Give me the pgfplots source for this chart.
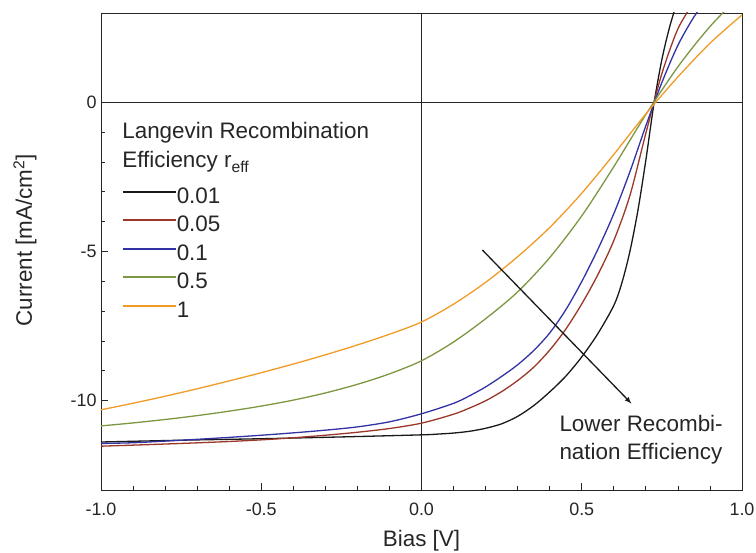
\documentclass[border=0pt]{standalone}
\usepackage{pgfplots}
\pgfplotsset{compat=1.18}
\usepackage{fontspec}
\setmainfont{Liberation Sans}
\definecolor{cblack}{RGB}{25,25,25}
\definecolor{cred}{RGB}{155,55,40}
\definecolor{cblue}{RGB}{50,50,165}
\definecolor{cgreen}{RGB}{125,150,65}
\definecolor{corange}{RGB}{240,155,40}
\begin{document}
\begin{tikzpicture}
\begin{axis}[
  scale only axis, width=641bp, height=477bp,
  xmin=-1, xmax=1, ymin=-13, ymax=3,
  axis line style={line width=0.9bp, black!85},
  xtick={-1,-0.5,0,0.5,1},
  xticklabels={-1.0,-0.5,0.0,0.5,1.0},
  ytick={-10,-5,0},
  yticklabels={-10,-5,0},
  minor x tick num=4, minor y tick num=4,
  tick align=inside, xtick pos=bottom, ytick pos=left,
  major tick length=7bp, minor tick length=4bp,
  tick style={line width=0.8bp, black!85},
  /pgf/number format/assume math mode=true,
  tick label style={font=\fontsize{18}{20}\selectfont, text=black!85},
  xticklabel style={yshift=-9bp},
  yticklabel style={xshift=-1bp},
  xlabel={Bias [V]}, ylabel={Current [mA/cm\textsuperscript{2}]},
  every axis x label/.style={at={(axis description cs:0.5,-0.107)}, anchor=center,
    font=\fontsize{22.5}{26}\selectfont, text=black!85},
  every axis y label/.style={at={(axis description cs:-0.1186,0.524)}, rotate=90, anchor=center,
    font=\fontsize{22.5}{26}\selectfont, text=black!85},
  legend cell align=left,
  legend image code/.code={\draw[#1, line width=1.6bp] (0bp,7.5bp) -- (53bp,7.5bp);},
  legend style={at={(axis cs:-0.934,-2.77)}, anchor=north west, draw=none, fill=none,
    inner sep=0pt, outer sep=0pt, row sep=0pt,
    font=\fontsize{22.5}{27}\selectfont, text=black!85,
    nodes={inner sep=0pt, text height=18bp, text depth=10.5bp},
    /tikz/every even column/.append style={column sep=4bp}},
  every axis plot/.append style={line width=1.3bp, smooth, tension=0.5},
  clip=true,
]
\draw[black!85, line width=0.8bp] (axis cs:-1,0) -- (axis cs:1,0);
\draw[black!85, line width=0.8bp] (axis cs:0,-13) -- (axis cs:0,3);

\addplot[cblack] coordinates {
(-1,-11.39) (-0.75,-11.33) (-0.5,-11.28) (-0.25,-11.22) (0,-11.15) (0.05,-11.125)
(0.1,-11.09) (0.15,-11.03) (0.2,-10.93) (0.25,-10.78) (0.3,-10.53) (0.35,-10.17)
(0.4,-9.71) (0.45,-9.185) (0.5,-8.535) (0.55,-7.76) (0.6,-6.81) (0.625,-6.06)
(0.65,-5.01) (0.675,-3.635) (0.7,-1.935) (0.725,-0.06) (0.75,1.44) (0.775,2.565) (0.8,3.44)};
\addlegendentry{0.01}
\addplot[cred] coordinates {
(-1,-11.53) (-0.9,-11.495) (-0.8,-11.458) (-0.7,-11.418) (-0.6,-11.373) (-0.5,-11.318)
(-0.4,-11.248) (-0.3,-11.163) (-0.2,-11.063) (-0.1,-10.938) (0,-10.758) (0.1,-10.458)
(0.15,-10.25) (0.2,-10.008) (0.25,-9.70) (0.3,-9.33) (0.35,-8.883) (0.4,-8.308)
(0.45,-7.608) (0.5,-6.758) (0.55,-5.783) (0.6,-4.633) (0.65,-3.133) (0.7,-1.033)
(0.75,0.967) (0.8,2.467) (0.85,3.367)};
\addlegendentry{0.05}
\addplot[cblue] coordinates {
(-1,-11.44) (-0.9,-11.415) (-0.8,-11.36) (-0.7,-11.30) (-0.6,-11.235) (-0.5,-11.163)
(-0.4,-11.083) (-0.3,-10.993) (-0.2,-10.883) (-0.1,-10.713) (0,-10.443) (0.1,-10.093)
(0.15,-9.84) (0.2,-9.543) (0.25,-9.19) (0.3,-8.80) (0.35,-8.323) (0.4,-7.733)
(0.45,-6.958) (0.5,-6.008) (0.55,-4.933) (0.6,-3.733) (0.65,-2.333) (0.7,-0.783)
(0.75,0.667) (0.8,1.917) (0.85,2.867) (0.9,3.617)};
\addlegendentry{0.1}
\addplot[cgreen] coordinates {
(-1,-10.85) (-0.9,-10.75) (-0.8,-10.635) (-0.7,-10.505) (-0.6,-10.355) (-0.5,-10.185)
(-0.4,-9.985) (-0.3,-9.745) (-0.2,-9.455) (-0.1,-9.105) (0,-8.665) (0.1,-8.035)
(0.2,-7.255) (0.3,-6.355) (0.4,-5.205) (0.5,-3.805) (0.6,-2.155) (0.7,-0.405)
(0.8,1.195) (0.9,2.545) (1.0,3.645)};
\addlegendentry{0.5}
\addplot[corange] coordinates {
(-1,-10.31) (-0.9,-10.09) (-0.8,-9.855) (-0.7,-9.605) (-0.6,-9.34) (-0.5,-9.065)
(-0.4,-8.775) (-0.3,-8.465) (-0.2,-8.135) (-0.1,-7.775) (0,-7.365) (0.1,-6.765)
(0.2,-6.035) (0.3,-5.175) (0.4,-4.195) (0.5,-3.045) (0.6,-1.745) (0.7,-0.385)
(0.8,0.855) (0.9,1.985) (1.0,2.935)};
\addlegendentry{1}

\node[anchor=west, inner sep=0pt, font=\fontsize{22.5}{27}\selectfont, text=black!85]
  at (axis cs:-0.934,-1.0) {Langevin Recombination};
\node[anchor=west, inner sep=0pt, font=\fontsize{22.5}{27}\selectfont, text=black!85]
  at (axis cs:-0.934,-2.0) {Efficiency r\textsubscript{eff}};
\draw[-latex, line width=1.3bp, black!90] (axis cs:0.19,-4.95) -- (axis cs:0.655,-10.1);
\node[anchor=north west, align=left, inner sep=0pt, font=\fontsize{22.5}{28}\selectfont, text=black!85]
  at (axis cs:0.43,-10.5) {Lower Recombi-\\nation Efficiency};
\end{axis}
\pgfresetboundingbox
\path (-101bp,-63bp) rectangle (655bp,490bp);
\end{tikzpicture}
\end{document}
